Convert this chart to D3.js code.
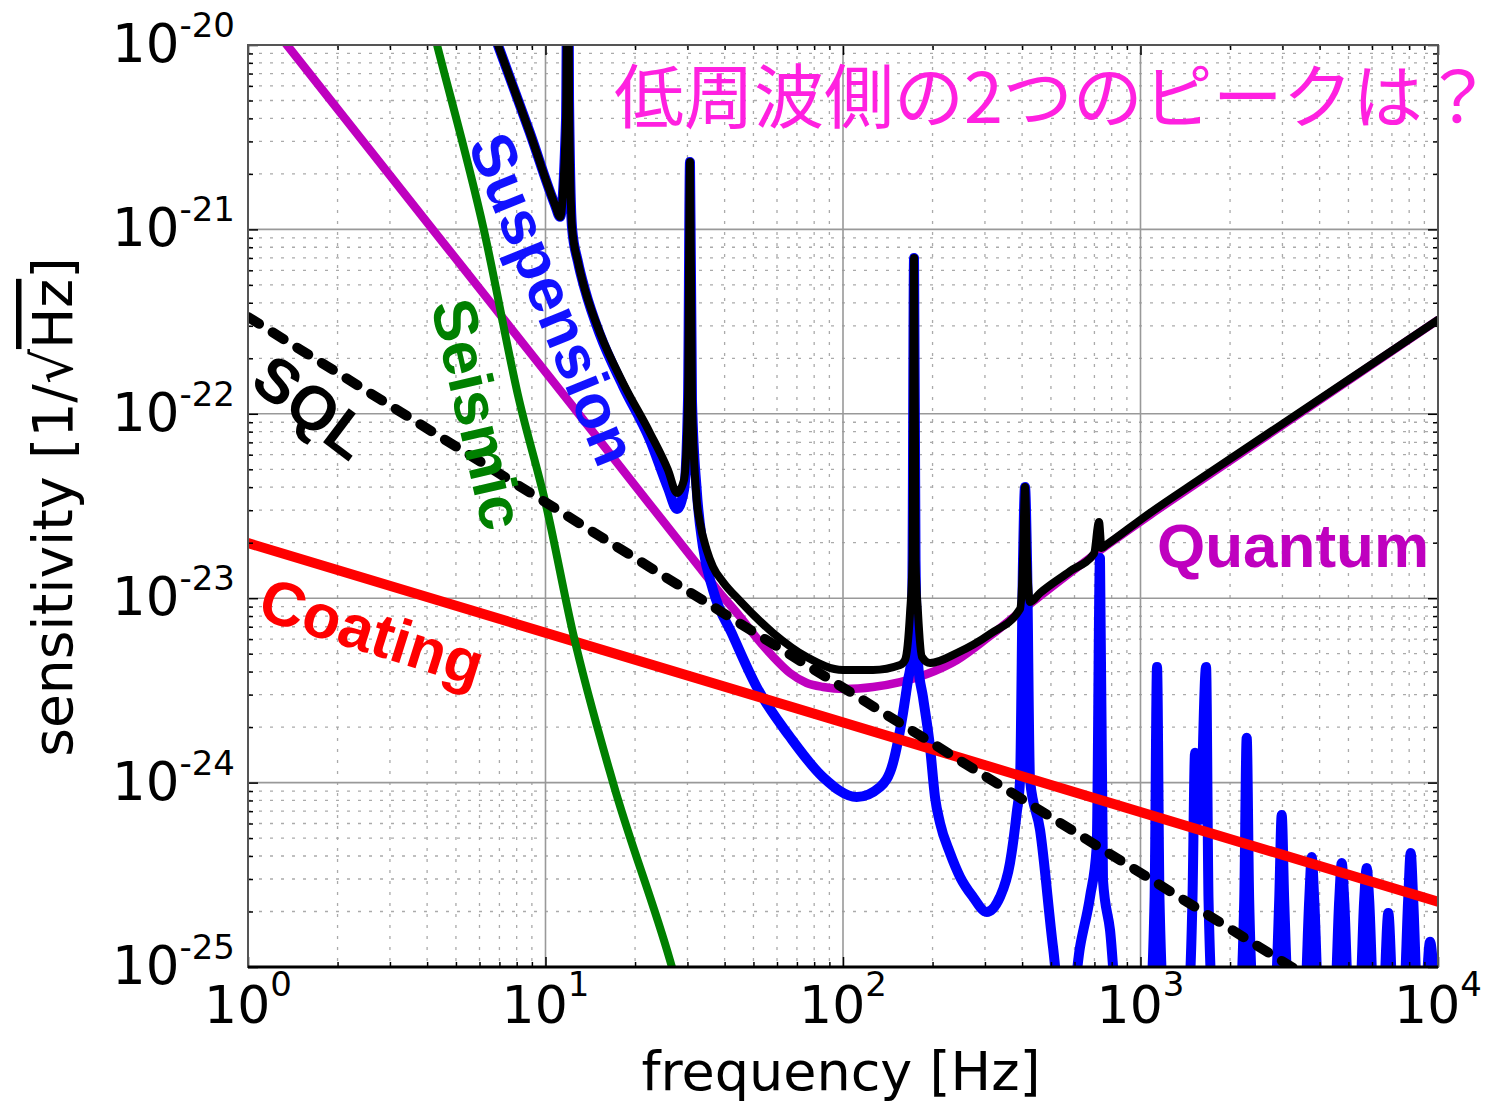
<!DOCTYPE html>
<html>
<head>
<meta charset="utf-8">
<script src="https://d3js.org/d3.v7.min.js"></script>
<style>
  body{margin:0;background:#fff;}
  .tick-label, .axis-title{font-family:"DejaVu Sans",sans-serif;fill:#000;}
  .curve{fill:none;stroke-linejoin:round;stroke-linecap:round;}
  .note{font-family:"Liberation Sans",Arial,sans-serif;font-weight:bold;}
  .axis path.domain{display:none;}
  .axis line{stroke:#000;stroke-width:1.5;}
</style>
</head>
<body>
<div class="container"></div>
<script>
// ---- data: [frequency Hz, sensitivity 1/sqrt(Hz)] ----
var xDecades = [0, 1, 2, 3, 4];
var yDecades = [-25, -24, -23, -22, -21, -20];

var quantumNoise = [[1,1.85e-20],[4.31,9.38e-22],[12.09,1.145e-22],[22.45,3.22e-23],[33.06,1.46e-23],
  [38.61,1.064e-23],[45.07,7.94e-24],[51.28,6.08e-24],[58.18,4.82e-24],[66.33,3.93e-24],[75.51,3.47e-24],
  [85.66,3.30e-24],[101.6,3.22e-24],[126.1,3.30e-24],[155.5,3.51e-24],[191.6,3.88e-24],[241.6,4.62e-24],
  [312,6.24e-24],[425.3,9.30e-24],[579.4,1.37e-23],[789.7,1.99e-23],[1076,2.83e-23],[1585,4.32e-23],
  [10000,3.23e-22]];

var seismicNoise = [[4.03,1.55e-20],[4.32,1e-20],[6.2,1e-21],[8.15,1.19e-22],[10.04,3.2e-23],
  [12.37,6.48e-24],[16.86,1.0e-24],[26.2,1.09e-25],[28.3,7.05e-26]];

var suspensionNoise = [[6.12,1.75e-20],[6.92,1e-20],[8.87,3.33e-21],[10.76,1.36e-21],[11.19,1.17e-21],
  [11.72,3.92e-21],[11.90,1e-19],[12.0,5.04e-21],[12.28,1.02e-21],[12.86,6.65e-22],[13.58,4.69e-22],
  [15.25,2.68e-22],[18.22,1.415e-22],[22.45,7.21e-23],[25.81,3.96e-23],[27.67,3.05e-23],[29.21,3.86e-23],
  [30.13,1.19e-22],[30.6,2.32e-21],[31.07,1.19e-22],[32.23,3.86e-23],[33.83,1.90e-23],[36.56,1.11e-23],
  [42.69,6.24e-24],[51.28,3.30e-24],[66.33,1.77e-24],[85.66,1.07e-24],[111.2,8.35e-25],[133.2,9.47e-25],
  [147.3,1.28e-24],[159.1,2.38e-24],[165.4,3.60e-24],[170.2,4.80e-24],[171.3,1.61e-23],[173.3,7.0e-22],
  [175.3,1.61e-23],[178.7,4.45e-24],[185.7,2.91e-24],[196.1,1.56e-24],[203.8,8.35e-25],[211.9,6.04e-25],
  [228.9,4.15e-25],[247.4,3.08e-25],[273.5,2.40e-25],[304.1,1.99e-25],[337.1,2.40e-25],[364.1,3.66e-25],
  [383.6,6.84e-25],[393.6,1.03e-24],
  [402.8,1.61e-23],[409.1,4.01e-23],[415.5,1.61e-23],[425.3,1.03e-24],[459.6,5.53e-25],[508.1,1.28e-25],
  [536.3,6.6e-26],[588.5,6.6e-26],[626.0,1.28e-25],[676.6,2.40e-25],[712.5,4.47e-25],[730.9,1.65e-23],
  [747.9,2.96e-25],[789.7,1.59e-25],[833.7,6.6e-26],
  // violin modes
  [1076,6.6e-26],[1115,2.31e-25],[1136.5,4.23e-24],[1158.6,2.31e-25],[1199.5,6.6e-26],
  [1444,6.6e-26],[1495,2.31e-25],[1525.5,1.45e-24],[1585,6.27e-25],[1661,4.23e-24],[1693,2.31e-25],[1753,6.6e-26],
  [2155,6.6e-26],[2232,2.31e-25],[2275,1.75e-24],[2319,2.31e-25],[2402,6.6e-26],
  [2826,6.6e-26],[2926,2.31e-25],[2983,6.67e-25],[3041,2.31e-25],[3150,6.6e-26],
  [3564,6.6e-26],[3691,2.31e-25],[3763,3.95e-25],[3837,2.31e-25],[3972,6.6e-26],
  [4496,6.6e-26],[4656,2.31e-25],[4747,3.66e-25],[4839,2.31e-25],[5010,6.6e-26],
  [5455,6.6e-26],[5648,2.31e-25],[5759,3.44e-25],[5871,2.31e-25],[6080,6.6e-26],
  [6548,6.6e-26],[6807,1.96e-25],[7073,6.6e-26],
  [7667,6.6e-26],[7938,2.31e-25],[8094,4.15e-25],[8254,2.31e-25],[8546,6.6e-26],
  [9045,6.6e-26],[9399,1.37e-25],[9770,6.6e-26]];

var coatingNoise = [[1,1.99e-23],[10000,2.26e-25]];
var sqlLimit = [[1,3.35e-22],[10000,3.2e-26]];

var totalNoise = [[6.12,1.75e-20],[6.92,1e-20],[8.87,3.33e-21],[10.76,1.36e-21],[11.19,1.17e-21],
  [11.72,3.92e-21],[11.90,1e-19],[12.0,5.04e-21],[12.28,1.02e-21],[12.86,6.65e-22],[13.58,4.69e-22],
  [15.25,2.74e-22],[18.22,1.47e-22],[22.45,7.87e-23],[25.81,4.96e-23],[27.67,3.72e-23],[29.21,4.38e-23],
  [30.13,1.19e-22],[30.6,2.32e-21],[31.07,1.19e-22],[32.23,3.41e-23],[33.06,2.56e-23],[34.82,1.83e-23],
  [36.56,1.48e-23],[39.52,1.224e-23],[45.07,9.66e-24],[58.18,6.48e-24],[75.51,4.80e-24],[100,4.08e-24],
  [126.1,4.08e-24],[155.5,4.34e-24],[161.6,4.62e-24],[168.0,8.31e-24],[171.3,1.61e-23],[173.3,7.0e-22],
  [175.3,1.61e-23],[178.7,8.31e-24],[184.3,4.80e-24],[196.1,4.45e-24],[241.1,5.04e-24],[312.0,6.40e-24],
  [393.6,8.74e-24],[402.8,1.61e-23],[409.1,4.01e-23],[415.5,1.61e-23],[425.3,9.53e-24],[459.6,1.067e-23],
  [579.4,1.40e-23],[697.8,1.748e-23],[725.4,2.59e-23],[739.4,1.87e-23],[765.6,1.943e-23],[1076,2.90e-23],
  [1585,4.43e-23],[10000,3.23e-22]];

// ---- layout ----
var W = 1507, H = 1104;
var plot = {left:248, right:1438, top:45, bottom:967};

var svg = d3.select(".container").append("svg")
  .attr("width", W).attr("height", H);

var x = d3.scaleLog().domain([1, 1e4]).range([plot.left, plot.right]);
var y = d3.scaleLog().domain([1e-25, 1e-20]).range([plot.bottom, plot.top]);

var xMajor = xDecades.map(function(d){ return Math.pow(10, d); });
var yMajor = yDecades.map(function(d){ return Math.pow(10, d); });
var isMinor = function(v){ return Math.abs(Math.log10(v) - Math.round(Math.log10(v))) > 1e-6; };
var xMinor = x.ticks().filter(isMinor);
var yMinor = y.ticks().filter(isMinor);

// grid
var grid = svg.append("g");
grid.selectAll(".vmin").data(xMinor).enter().append("line")
  .attr("x1", x).attr("x2", x).attr("y1", plot.top).attr("y2", plot.bottom)
  .attr("stroke", "#aaa").attr("stroke-width", 1.3).attr("stroke-dasharray", "3,8");
grid.selectAll(".hmin").data(yMinor).enter().append("line")
  .attr("y1", y).attr("y2", y).attr("x1", plot.left).attr("x2", plot.right)
  .attr("stroke", "#aaa").attr("stroke-width", 1.3).attr("stroke-dasharray", "3,8");
grid.selectAll(".vmaj").data(xMajor).enter().append("line")
  .attr("x1", x).attr("x2", x).attr("y1", plot.top).attr("y2", plot.bottom)
  .attr("stroke", "#999").attr("stroke-width", 1.6);
grid.selectAll(".hmaj").data(yMajor).enter().append("line")
  .attr("y1", y).attr("y2", y).attr("x1", plot.left).attr("x2", plot.right)
  .attr("stroke", "#999").attr("stroke-width", 1.6);

// curves
svg.append("clipPath").attr("id", "clip").append("rect")
  .attr("x", plot.left).attr("y", plot.top)
  .attr("width", plot.right - plot.left).attr("height", plot.bottom - plot.top);

var curves = svg.append("g").attr("clip-path", "url(#clip)");
var line = d3.line().x(function(d){ return x(d[0]); }).y(function(d){ return y(d[1]); })
  .curve(d3.curveMonotoneX);
var straight = d3.line().x(function(d){ return x(d[0]); }).y(function(d){ return y(d[1]); });

curves.append("path").datum(quantumNoise).attr("class", "curve")
  .attr("d", line).attr("stroke", "#bf00bf").attr("stroke-width", 8.5);
curves.append("path").datum(suspensionNoise).attr("class", "curve")
  .attr("d", line).attr("stroke", "#0000ff").attr("stroke-width", 10);
curves.append("path").datum(coatingNoise).attr("class", "curve")
  .attr("d", straight).attr("stroke", "#ff0000").attr("stroke-width", 10);
curves.append("path").datum(seismicNoise).attr("class", "curve")
  .attr("d", line).attr("stroke", "#008000").attr("stroke-width", 8);
curves.append("path").datum(sqlLimit).attr("class", "curve")
  .attr("d", straight).attr("stroke", "#000").attr("stroke-width", 10)
  .attr("stroke-linecap", "butt").attr("stroke-dasharray", "13,16");
curves.append("path").datum(totalNoise).attr("class", "curve")
  .attr("d", line).attr("stroke", "#000").attr("stroke-width", 8);

// ticks (inward, all sides)
function addAxis(gen, tx, ty){
  svg.append("g").attr("class", "axis").attr("transform", "translate(" + tx + "," + ty + ")").call(gen);
}
addAxis(d3.axisBottom(x).tickValues(xMajor).tickSize(-10).tickFormat(""), 0, plot.bottom);
addAxis(d3.axisBottom(x).tickValues(xMinor).tickSize(-5).tickFormat(""), 0, plot.bottom);
addAxis(d3.axisTop(x).tickValues(xMajor).tickSize(-10).tickFormat(""), 0, plot.top);
addAxis(d3.axisTop(x).tickValues(xMinor).tickSize(-5).tickFormat(""), 0, plot.top);
addAxis(d3.axisLeft(y).tickValues(yMajor).tickSize(-10).tickFormat(""), plot.left, 0);
addAxis(d3.axisLeft(y).tickValues(yMinor).tickSize(-5).tickFormat(""), plot.left, 0);
addAxis(d3.axisRight(y).tickValues(yMajor).tickSize(-10).tickFormat(""), plot.right, 0);
addAxis(d3.axisRight(y).tickValues(yMinor).tickSize(-5).tickFormat(""), plot.right, 0);

// frame
svg.append("rect").attr("x", plot.left).attr("y", plot.top)
  .attr("width", plot.right - plot.left).attr("height", plot.bottom - plot.top)
  .attr("fill", "none").attr("stroke", "#555").attr("stroke-width", 2);
svg.append("line").attr("x1", plot.left).attr("x2", plot.right)
  .attr("y1", plot.bottom).attr("y2", plot.bottom).attr("stroke", "#000").attr("stroke-width", 3);

// tick labels 10^n
svg.selectAll(".xlab").data(xDecades).enter().append("text")
  .attr("class", "tick-label").attr("text-anchor", "middle")
  .attr("x", function(d){ return x(Math.pow(10, d)); }).attr("y", plot.bottom + 56)
  .each(function(d){
    var t = d3.select(this);
    t.append("tspan").attr("font-size", 52).text("10");
    t.append("tspan").attr("font-size", 34).attr("dy", -27).text(d);
  });
svg.selectAll(".ylab").data(yDecades).enter().append("text")
  .attr("class", "tick-label").attr("text-anchor", "end")
  .attr("x", plot.left - 13).attr("y", function(d){ return y(Math.pow(10, d)) + 17; })
  .each(function(d){
    var t = d3.select(this);
    t.append("tspan").attr("font-size", 53).text("10");
    t.append("tspan").attr("font-size", 34).attr("dy", -25).text(d);
  });

// axis titles
svg.append("text").attr("class", "axis-title").attr("text-anchor", "middle")
  .attr("x", (plot.left + plot.right) / 2 - 2).attr("y", 1090).attr("font-size", 54)
  .text("frequency [Hz]");
var yt = svg.append("text").attr("class", "axis-title").attr("text-anchor", "middle")
  .attr("transform", "translate(72,507) rotate(-90)").attr("font-size", 55);
yt.append("tspan").text("sensitivity [1/\u221A");
yt.append("tspan").style("text-decoration", "overline").text("Hz");
yt.append("tspan").text("]");

// curve labels
function note(txt, cx, cy, angle, color){
  svg.append("text").attr("class", "note").attr("font-size", 62)
    .attr("text-anchor", "middle").attr("dominant-baseline", "central")
    .attr("transform", "translate(" + cx + "," + cy + ") rotate(" + angle + ")")
    .attr("fill", color).text(txt);
}
note("Suspension", 553, 299, 68, "#1111ff");
note("Seismic", 478, 414, 77, "#008000");
note("SQL", 312, 407, 37, "#000");
note("Coating", 372, 632, 17.5, "#ff0000");
svg.append("text").attr("class", "note").attr("font-size", 62)
  .attr("x", 1157).attr("y", 567).attr("fill", "#bf00bf").text("Quantum");

svg.append("text").attr("x", 614).attr("y", 123)
  .attr("font-family", "'Noto Sans CJK JP', sans-serif").attr("font-size", 70)
  .attr("fill", "#ff20e0").text("低周波側の2つのピークは？");
</script>
</body>
</html>
